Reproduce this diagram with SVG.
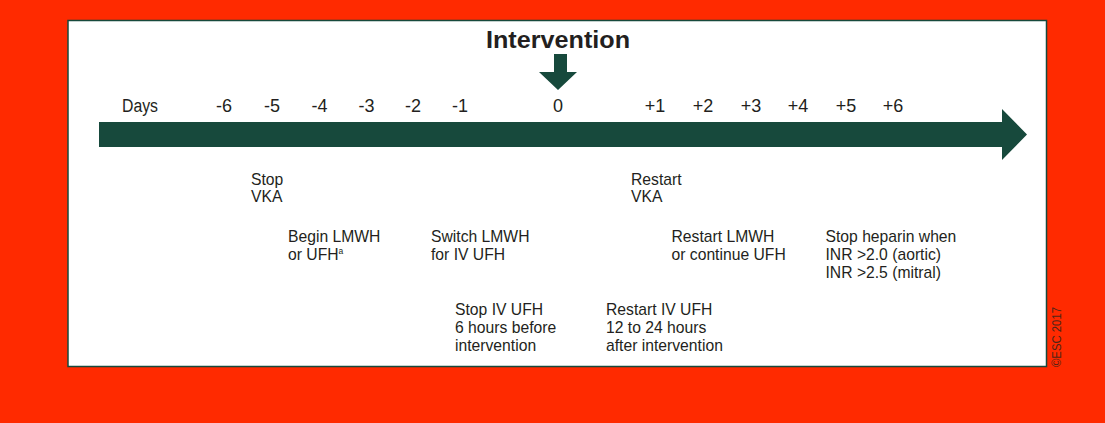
<svg xmlns="http://www.w3.org/2000/svg" width="1105" height="423" viewBox="0 0 1105 423">
<style>
text{font-family:"Liberation Sans",Arial,sans-serif;fill:#231F20}
.day{font-size:18px;text-anchor:middle}
.lbl{font-size:15.7px}
.title{font-size:23px;font-weight:bold;text-anchor:middle}
.arrow{fill:#17493C}
.copy{font-size:12px;fill:#4e2418}
</style>
<rect x="0" y="0" width="1105" height="423" fill="#FF2A00"/>
<rect x="68" y="20.5" width="978.5" height="346" fill="#FFFFFF" stroke="#17493C" stroke-width="1.5"/>
<g id="connectors">
<polygon class="arrow" points="99,122 1002,122 1002,109 1027,134.5 1002,160 1002,147 99,147"/>
<polygon class="arrow" points="554,54 567,54 567,72 577,72 558,90 539,72 554,72"/>
</g>
<g id="title"><text class="title" x="558" y="48" textLength="144" lengthAdjust="spacingAndGlyphs">Intervention</text></g>
<g id="days">
<text x="122" y="112" style="font-size:18px" textLength="36" lengthAdjust="spacingAndGlyphs">Days</text>
<text class="day" x="224" y="112">-6</text>
<text class="day" x="272" y="112">-5</text>
<text class="day" x="319.5" y="112">-4</text>
<text class="day" x="366.5" y="112">-3</text>
<text class="day" x="413" y="112">-2</text>
<text class="day" x="460" y="112">-1</text>
<text class="day" x="558" y="112">0</text>
<text class="day" x="655" y="112">+1</text>
<text class="day" x="703" y="112">+2</text>
<text class="day" x="751" y="112">+3</text>
<text class="day" x="798" y="112">+4</text>
<text class="day" x="846" y="112">+5</text>
<text class="day" x="893" y="112">+6</text>
</g>
<g id="stop-vka"><text class="lbl" x="251" y="184.5">Stop</text><text class="lbl" x="251" y="202">VKA</text></g>
<g id="begin-lmwh"><text class="lbl" x="288" y="242">Begin LMWH</text><text class="lbl" x="288" y="260">or UFH<tspan font-size="8.5" dy="-6">a</tspan></text></g>
<g id="switch-lmwh"><text class="lbl" x="431" y="242">Switch LMWH</text><text class="lbl" x="431" y="260">for IV UFH</text></g>
<g id="stop-iv-ufh"><text class="lbl" x="455" y="315">Stop IV UFH</text><text class="lbl" x="455" y="333">6 hours before</text><text class="lbl" x="455" y="351">intervention</text></g>
<g id="restart-vka"><text class="lbl" x="631" y="184.5">Restart</text><text class="lbl" x="631" y="202">VKA</text></g>
<g id="restart-lmwh"><text class="lbl" x="671.5" y="242">Restart LMWH</text><text class="lbl" x="671.5" y="260">or continue UFH</text></g>
<g id="restart-iv-ufh"><text class="lbl" x="606" y="314.5">Restart IV UFH</text><text class="lbl" x="606" y="332.5">12 to 24 hours</text><text class="lbl" x="606" y="350.5">after intervention</text></g>
<g id="stop-heparin"><text class="lbl" x="825.5" y="242">Stop heparin when</text><text class="lbl" x="825.5" y="260">INR &gt;2.0 (aortic)</text><text class="lbl" x="825.5" y="278">INR &gt;2.5 (mitral)</text></g>
<g id="copyright"><text class="copy" transform="translate(1061,367) rotate(-90)" textLength="60" lengthAdjust="spacingAndGlyphs">©ESC 2017</text></g>
</svg>
